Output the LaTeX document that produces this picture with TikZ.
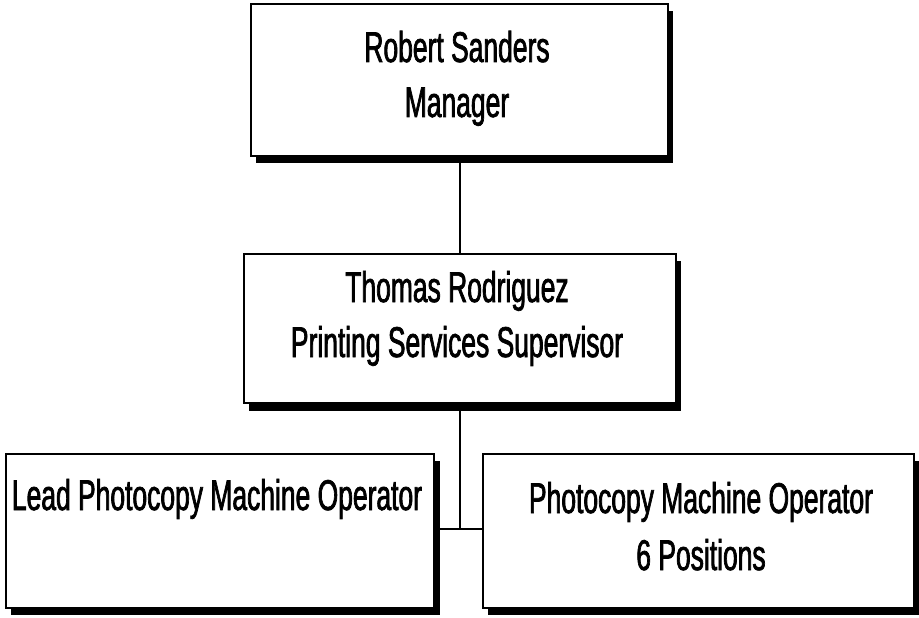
\documentclass[tikz,border=0pt]{standalone}
\usepackage{fontspec}
\setmainfont{Liberation Sans}[FakeStretch=0.615,FakeBold=1.6]
\begin{document}
\begin{tikzpicture}[x=1pt,y=-1pt,
  orgbox/.style={draw=black,line width=2.2pt,fill=white,inner sep=0pt},
  lbl/.style={anchor=base,inner sep=0pt,font=\fontsize{43}{51}\selectfont},
  conn/.style={draw=black,line width=1.8pt}]
\useasboundingbox (0,0) rectangle (919,618);
% shadows
\fill[black] (256,11) rectangle (673,163);
\fill[black] (249,261) rectangle (681,411);
\fill[black] (11,461) rectangle (440,615);
\fill[black] (488,461) rectangle (919,615);
\coordinate (j1) at (460,529);
\node[orgbox,minimum width=417pt,minimum height=152pt,anchor=north west] (b1) at (250,3) {};
\node[orgbox,minimum width=432pt,minimum height=149pt,anchor=north west] (b2) at (243,253) {};
\node[orgbox,minimum width=428pt,minimum height=154pt,anchor=north west] (b3) at (5,453) {};
\node[orgbox,minimum width=431pt,minimum height=154pt,anchor=north west] (b4) at (482,453) {};
\draw[conn] (b1.south -| j1) -- (b2.north -| j1);
\draw[conn] (b2.south -| j1) -- (j1);
\draw[conn] (b3.east |- j1) -- (b4.west |- j1);
% labels
\node[lbl] (t1a) at (457,62) {Robert Sanders};
\node[lbl] (t1b) at (457,117) {Manager};
\node[lbl] (t2a) at (457,302) {Thomas Rodriguez};
\node[lbl] (t2b) at (457,357) {Printing Services Supervisor};
\node[lbl] (t3a) at (217,510) {Lead Photocopy Machine Operator};
\node[lbl] (t4a) at (701,513) {Photocopy Machine Operator};
\node[lbl] (t4b) at (701,570) {6 Positions};
\end{tikzpicture}
\end{document}
